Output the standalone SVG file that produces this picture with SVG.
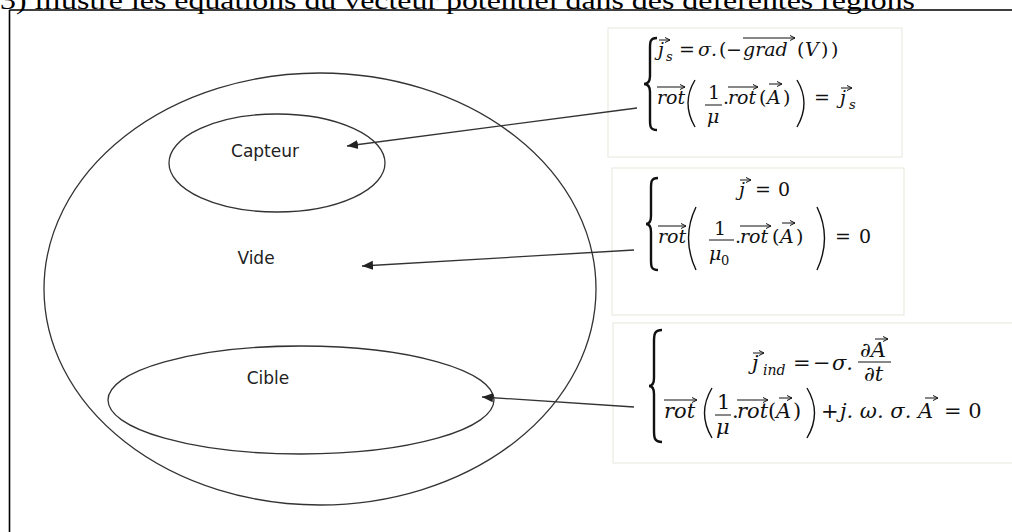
<svg xmlns="http://www.w3.org/2000/svg" width="1012" height="532" viewBox="0 0 1012 532">
<defs>
<style>
.frame{stroke:#000;stroke-width:1.6;fill:none}
.reg{fill:none;stroke:#333;stroke-width:1.3}
.lbl{font-family:"DejaVu Sans",sans-serif;font-size:17px;fill:#222}
.box{fill:#fff;stroke:#ecebe2;stroke-width:1.2}
.conn{stroke:#333;stroke-width:1.3;fill:none}
.m{font-family:"DejaVu Serif",serif;font-style:italic;font-size:19px;fill:#111}
.u{font-family:"DejaVu Serif",serif;font-size:19px;fill:#111}
.m3{font-family:"DejaVu Serif",serif;font-style:italic;font-size:21px;fill:#111}
.u3{font-family:"DejaVu Serif",serif;font-size:21px;fill:#111}
.sub{font-size:13px}
.sub3{font-size:14px}
.va{stroke:#111;stroke-width:1;fill:none}
.br{stroke:#111;stroke-width:2.4;fill:none}
.pr{stroke:#111;stroke-width:1.4;fill:none}
.bar{stroke:#111;stroke-width:1}
</style>
<marker id="ah" markerUnits="userSpaceOnUse" markerWidth="12" markerHeight="10" refX="11" refY="5" orient="auto">
<path d="M0,0.5 L11,5 L0,9.5 z" fill="#222"/>
</marker>
<marker id="vh" markerUnits="userSpaceOnUse" markerWidth="6" markerHeight="6" refX="5" refY="3" orient="auto">
<path d="M0,0.5 L5,3 L0,5.5" fill="none" stroke="#111" stroke-width="1"/>
</marker>
</defs>
<rect width="1012" height="532" fill="#fff"/>
<text x="0" y="9" font-family="Liberation Serif, serif" font-size="25" fill="#000" textLength="915" lengthAdjust="spacingAndGlyphs">3) illustre les équations du vecteur potentiel dans des déférentes régions</text>
<path class="frame" d="M9.5,10 H1012 M9.5,10 V532"/>
<g id="vide">
<ellipse class="reg" cx="320" cy="289" rx="276" ry="216"/>
<text class="lbl" x="256" y="264" text-anchor="middle">Vide</text>
</g>
<g id="capteur">
<ellipse class="reg" cx="277" cy="163" rx="108" ry="49"/>
<text class="lbl" x="265" y="157" text-anchor="middle">Capteur</text>
</g>
<g id="cible">
<ellipse class="reg" cx="301" cy="400" rx="193" ry="54"/>
<text class="lbl" x="268" y="384" text-anchor="middle">Cible</text>
</g>
<g id="eq-capteur">
<rect class="box" x="608" y="28" width="294" height="129"/>
<path class="br" d="M657,38 C650,38 650,42 650,48 L650,76 C650,82 648,84 644,84 C648,84 650,86 650,92 L650,120 C650,126 650,130 657,130"/>
<text class="m" x="658" y="56">j</text><line class="va" x1="659" y1="40" x2="670" y2="40" marker-end="url(#vh)"/>
<text class="m sub" x="666" y="61">s</text>
<text class="u" x="679" y="56">=</text>
<text class="m" x="698" y="56">σ.</text>
<text class="u" x="719" y="56">(</text>
<text class="u" x="726" y="56">−</text>
<text class="m" x="743" y="56">grad</text><line class="va" x1="743" y1="38" x2="795" y2="38" marker-end="url(#vh)"/>
<text class="u" x="797" y="56">(</text><text class="m" x="805" y="56">V</text><text class="u" x="821" y="56">)</text><text class="u" x="831" y="56">)</text>
<text class="m" x="657" y="104">rot</text><line class="va" x1="657" y1="87" x2="685" y2="87" marker-end="url(#vh)"/>
<path class="pr" d="M695,80 Q681,103 695,127"/>
<text class="u" x="708" y="99">1</text><line class="bar" x1="705" y1="105" x2="722" y2="105"/>
<text class="m" x="707" y="123">μ</text>
<text class="u" x="723" y="104">.</text>
<text class="m" x="728" y="104">rot</text><line class="va" x1="728" y1="87" x2="758" y2="87" marker-end="url(#vh)"/>
<text class="u" x="759" y="104">(</text><text class="m" x="767" y="104">A</text><line class="va" x1="769" y1="84" x2="782" y2="84" marker-end="url(#vh)"/><text class="u" x="783" y="104">)</text>
<path class="pr" d="M797,80 Q811,103 797,127"/>
<text class="u" x="814" y="104">=</text>
<text class="m" x="840" y="104">j</text><line class="va" x1="841" y1="88" x2="852" y2="88" marker-end="url(#vh)"/>
<text class="m sub" x="849" y="109">s</text>
</g>
<g id="eq-vide">
<rect class="box" x="612" y="168" width="292" height="147"/>
<path class="br" d="M658,178 C651,178 651,182 651,188 L651,216 C651,222 649,224 646,224 C649,224 651,226 651,232 L651,260 C651,266 651,270 658,270"/>
<text class="m" x="739" y="196">j</text><line class="va" x1="740" y1="180" x2="751" y2="180" marker-end="url(#vh)"/>
<text class="u" x="755" y="196">=</text>
<text class="u" x="778" y="196">0</text>
<text class="m" x="658" y="243">rot</text><line class="va" x1="658" y1="226" x2="686" y2="226" marker-end="url(#vh)"/>
<path class="pr" d="M696,207 Q681,238 696,270"/>
<text class="u" x="714" y="235">1</text><line class="bar" x1="709" y1="240" x2="734" y2="240"/>
<text class="m" x="709" y="260">μ</text><text class="u sub" x="721" y="265">0</text>
<text class="u" x="735" y="243">.</text>
<text class="m" x="740" y="243">rot</text><line class="va" x1="740" y1="226" x2="771" y2="226" marker-end="url(#vh)"/>
<text class="u" x="772" y="243">(</text><text class="m" x="780" y="243">A</text><line class="va" x1="782" y1="223" x2="795" y2="223" marker-end="url(#vh)"/><text class="u" x="796" y="243">)</text>
<path class="pr" d="M817,207 Q832,238 817,270"/>
<text class="u" x="835" y="243">=</text>
<text class="u" x="859" y="243">0</text>
</g>
<g id="eq-cible">
<rect class="box" x="613" y="323" width="405" height="140"/>
<path class="br" d="M662,330 C654,330 654,335 654,342 L654,378 C654,383 652,386 649,386 C652,386 654,389 654,394 L654,430 C654,437 654,442 662,442"/>
<text class="m3" x="752" y="370">j</text><line class="va" x1="753" y1="353" x2="764" y2="353" marker-end="url(#vh)"/>
<text class="m3 sub3" x="763" y="375">ind</text>
<text class="u3" x="793" y="370">=</text>
<text class="u3" x="813" y="370">−</text><text class="m3" x="832" y="370">σ.</text>
<text class="m3" x="860" y="357">∂A</text><line class="va" x1="875" y1="339" x2="888" y2="339" marker-end="url(#vh)"/>
<line class="bar" x1="858" y1="362" x2="891" y2="362"/>
<text class="m3" x="864" y="381">∂t</text>
<text class="m3" x="664" y="418">rot</text><line class="va" x1="664" y1="400" x2="697" y2="400" marker-end="url(#vh)"/>
<path class="pr" d="M712,388 Q697,413 712,438"/>
<text class="u3" x="717" y="409">1</text><line class="bar" x1="715" y1="415" x2="731" y2="415"/>
<text class="m3" x="716" y="434">μ</text>
<text class="u3" x="732" y="418">.</text>
<text class="m3" x="737" y="418">rot</text><line class="va" x1="737" y1="400" x2="768" y2="400" marker-end="url(#vh)"/>
<text class="u3" x="768" y="418">(</text><text class="m3" x="776" y="418">A</text><line class="va" x1="779" y1="398" x2="792" y2="398" marker-end="url(#vh)"/><text class="u3" x="793" y="418">)</text>
<path class="pr" d="M807,388 Q822,413 807,438"/>
<text class="u3" x="821" y="418">+</text>
<text class="m3" x="840" y="418">j. ω. σ. A</text><line class="va" x1="925" y1="398" x2="938" y2="398" marker-end="url(#vh)"/>
<text class="u3" x="944" y="418">= 0</text>
</g>
<g id="connectors">
<line class="conn" x1="637" y1="108" x2="347" y2="146" marker-end="url(#ah)"/>
<line class="conn" x1="634" y1="250" x2="362" y2="266" marker-end="url(#ah)"/>
<line class="conn" x1="634" y1="407" x2="482" y2="397" marker-end="url(#ah)"/>
</g>
</svg>
